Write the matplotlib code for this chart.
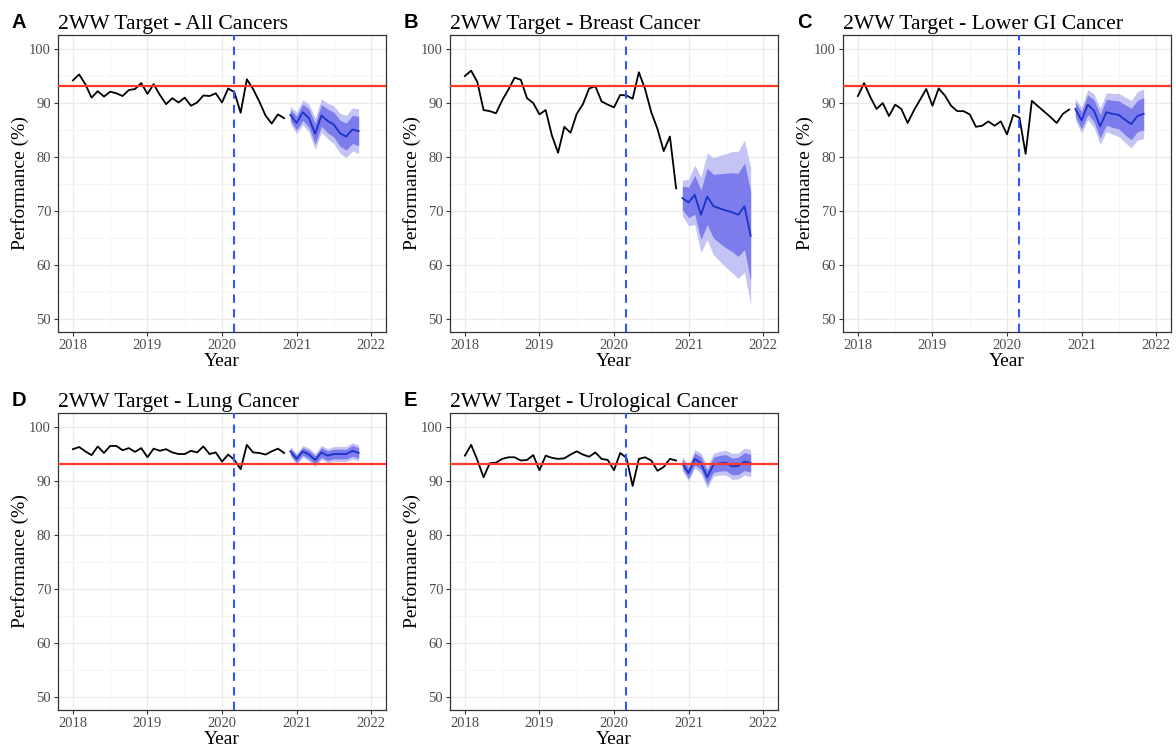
import numpy as np
import matplotlib.pyplot as plt
from matplotlib.ticker import MultipleLocator

# months: Jan 2018 .. Nov 2020 observed, Dec 2020 .. Nov 2021 forecast
obs_x = 2018 + np.arange(35) / 12
fc_x = 2018 + np.arange(35, 47) / 12

titles = ["2WW Target - All Cancers", "2WW Target - Breast Cancer",
          "2WW Target - Lower GI Cancer", "2WW Target - Lung Cancer",
          "2WW Target - Urological Cancer"]
letters = ["A", "B", "C", "D", "E"]

obs_all = [94.1, 95.2, 93.4, 90.9, 92.1, 91.1, 92.0, 91.7, 91.2, 92.3, 92.5, 93.6,
           91.6, 93.4, 91.4, 89.7, 90.8, 90.0, 90.9, 89.4, 90.0, 91.3, 91.2, 91.7,
           90.0, 92.6, 91.9, 88.1, 94.3, 92.5, 90.2, 87.6, 86.1, 87.8, 87.1]
obs_breast = [94.9, 95.9, 93.8, 88.6, 88.4, 88.0, 90.4, 92.4, 94.6, 94.2, 90.8, 89.9,
              87.8, 88.6, 83.9, 80.7, 85.5, 84.4, 87.9, 89.7, 92.6, 93.0, 90.2, 89.6,
              89.1, 91.4, 91.3, 90.7, 95.6, 92.5, 88.2, 85.1, 81.0, 83.7, 74.1]
obs_lowgi = [91.2, 93.6, 91.0, 88.8, 89.9, 87.5, 89.6, 88.8, 86.2, 88.5, 90.5, 92.5,
             89.4, 92.6, 91.3, 89.4, 88.4, 88.4, 87.8, 85.5, 85.7, 86.5, 85.7, 86.5,
             84.1, 87.7, 87.2, 80.5, 90.3, 89.3, 88.3, 87.3, 86.2, 87.9, 88.7]
obs_lung = [95.8, 96.2, 95.4, 94.7, 96.3, 95.1, 96.4, 96.4, 95.6, 96.0, 95.3, 96.0,
            94.3, 95.9, 95.5, 95.8, 95.2, 94.9, 94.9, 95.5, 95.2, 96.3, 94.9, 95.2,
            93.5, 94.8, 93.8, 92.1, 96.6, 95.2, 95.1, 94.8, 95.4, 95.9, 95.1]
obs_uro = [94.6, 96.6, 93.8, 90.6, 93.2, 93.3, 94.0, 94.3, 94.3, 93.7, 93.8, 94.7,
           91.9, 94.6, 94.2, 94.0, 94.1, 94.8, 95.4, 94.8, 94.4, 95.2, 94.0, 93.8,
           91.9, 95.1, 94.2, 89.0, 94.0, 94.3, 93.7, 91.8, 92.5, 94.0, 93.7]

fc_all = [87.7, 86.2, 88.2, 87.1, 84.2, 87.6, 86.6, 85.9, 84.3, 83.7, 85.0, 84.7]
fc_breast = [72.3, 71.5, 72.9, 69.2, 72.6, 70.8, 70.4, 70.0, 69.7, 69.2, 70.8, 65.3]
fc_lowgi = [88.8, 86.7, 89.6, 88.5, 85.6, 88.2, 87.9, 87.7, 86.8, 86.0, 87.5, 87.9]
fc_lung = [95.4, 94.0, 95.4, 94.8, 93.8, 95.2, 94.6, 94.9, 94.9, 94.9, 95.5, 95.1]
fc_uro = [93.1, 91.4, 94.0, 93.2, 90.6, 92.9, 93.2, 93.3, 92.6, 92.7, 93.5, 93.2]

# half widths of the 95% and 80% intervals
hw95_all = [1.6, 2.0, 2.3, 2.6, 2.9, 3.1, 3.3, 3.5, 3.7, 3.9, 4.0, 4.1]
hw80_all = [1.0, 1.3, 1.5, 1.7, 1.9, 2.0, 2.2, 2.3, 2.4, 2.5, 2.6, 2.7]
hw95_breast = [3.3, 4.3, 5.5, 7.0, 8.0, 9.0, 9.8, 10.5, 11.2, 11.8, 12.2, 12.7]
hw80_breast = [2.2, 2.8, 3.6, 4.6, 5.2, 5.9, 6.4, 6.9, 7.3, 7.7, 8.0, 8.3]
hw95_lowgi = [2.0, 2.4, 2.8, 3.1, 3.4, 3.6, 3.8, 4.0, 4.2, 4.4, 4.5, 4.6]
hw80_lowgi = [1.3, 1.6, 1.8, 2.0, 2.2, 2.4, 2.5, 2.6, 2.8, 2.9, 2.9, 3.0]
hw95_lung = [0.9, 1.0, 1.1, 1.2, 1.2, 1.3, 1.3, 1.4, 1.4, 1.4, 1.5, 1.5]
hw80_lung = [0.6, 0.7, 0.7, 0.8, 0.8, 0.9, 0.9, 0.9, 0.9, 0.9, 1.0, 1.0]
hw95_uro = [1.3, 1.5, 1.7, 1.9, 2.0, 2.1, 2.2, 2.3, 2.4, 2.4, 2.5, 2.5]
hw80_uro = [0.85, 1.0, 1.1, 1.2, 1.3, 1.4, 1.45, 1.5, 1.55, 1.6, 1.65, 1.65]

observed = [obs_all, obs_breast, obs_lowgi, obs_lung, obs_uro]
forecast = [fc_all, fc_breast, fc_lowgi, fc_lung, fc_uro]
hw95 = [hw95_all, hw95_breast, hw95_lowgi, hw95_lung, hw95_uro]
hw80 = [hw80_all, hw80_breast, hw80_lowgi, hw80_lung, hw80_uro]

target = 93
lockdown = 2020 + 2 / 12

serif = ["Liberation Serif", "DejaVu Serif"]
plt.rcParams['font.family'] = serif

fig = plt.figure(figsize=(11.76, 7.53), dpi=100)

W, H = 1176, 753
boxes = [(58, 35), (450, 35), (843, 35), (58, 413), (450, 413)]
pw, ph = 328, 297

for i, (px, py) in enumerate(boxes):
    ax = fig.add_axes([px / W, 1 - (py + ph) / H, pw / W, ph / H])
    f = np.array(forecast[i])
    h95 = np.array(hw95[i])
    h80 = np.array(hw80[i])

    ax.fill_between(fc_x, f - h95, f + h95, color="#c4c4f4", lw=0, zorder=2)
    ax.fill_between(fc_x, f - h80, f + h80, color="#7c7cec", lw=0, zorder=3)
    ax.plot(fc_x, f, color="#1a33c8", lw=1.3, zorder=4)
    ax.plot(obs_x, observed[i], color="black", lw=1.3, zorder=4)
    ax.axhline(target, color="#ff3a2a", lw=1.6, zorder=5)
    ax.axvline(lockdown, color="#3355ff", lw=1.5, ls=(0, (4, 3)), zorder=5)

    ax.set_xlim(2017.8, 2022.2)
    ax.set_ylim(47.5, 102.5)
    ax.xaxis.set_major_locator(MultipleLocator(1))
    ax.xaxis.set_minor_locator(MultipleLocator(0.5))
    ax.yaxis.set_major_locator(MultipleLocator(10))
    ax.yaxis.set_minor_locator(MultipleLocator(5))
    ax.grid(which="major", color="#ebebeb", lw=1.0, zorder=0)
    ax.grid(which="minor", color="#f4f4f4", lw=0.6, zorder=0)
    ax.set_axisbelow(True)
    for s in ax.spines.values():
        s.set_color("#333333")
        s.set_linewidth(0.9)
    ax.tick_params(which="major", length=3, width=0.8, color="#333333",
                   labelsize=10.5, labelcolor="#4d4d4d", pad=2)
    ax.tick_params(which="minor", length=0)

    ax.set_xlabel("Year", fontsize=14, labelpad=1)
    ax.set_ylabel("Performance (%)", fontsize=14)
    ax.yaxis.set_label_coords(-0.116, 0.5)
    ax.yaxis.label.set_va("center")
    ax.set_title(titles[i], loc="left", fontsize=15.6, pad=4)

    fig.text((px - 46) / W, 1 - (py - 12) / H, letters[i], fontsize=14.5,
             fontweight="bold", family=["Liberation Sans", "DejaVu Sans"],
             va="center", ha="left")

fig.savefig("out.png", dpi=100, facecolor="white")
